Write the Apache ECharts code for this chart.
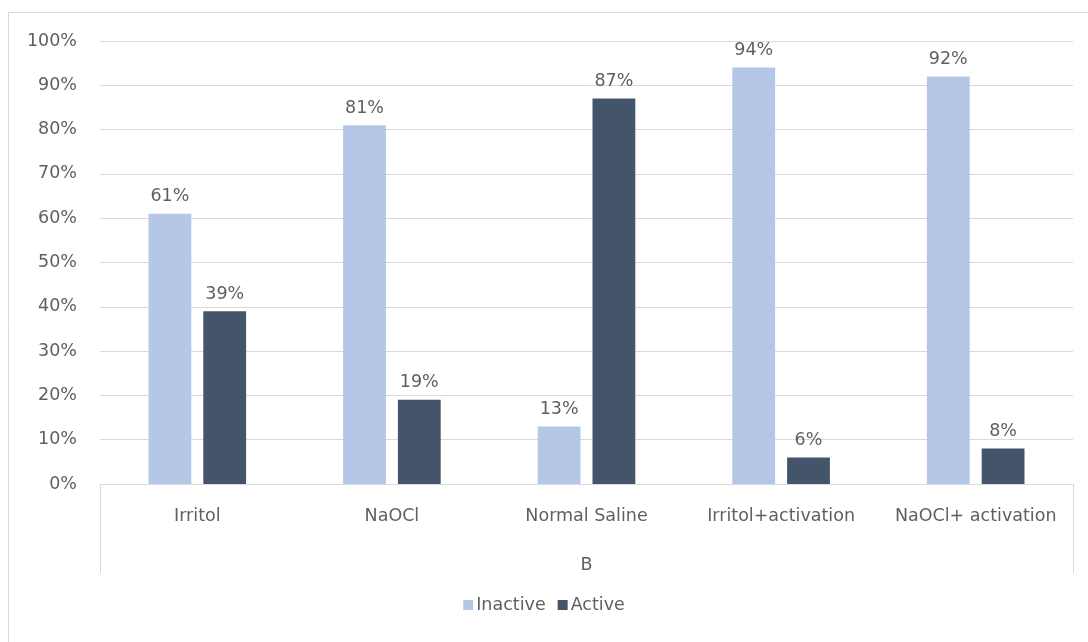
<!DOCTYPE html>
<html>
<head>
<meta charset="utf-8">
<script src="https://cdn.jsdelivr.net/npm/echarts@6/dist/echarts.min.js"></script>
<style>html,body{margin:0;padding:0;background:#fff;}#c{width:1088px;height:642px;}</style>
</head>
<body>
<div id="c"></div>
<script>
var categories = ['Irritol', 'NaOCl', 'Normal Saline', 'Irritol+activation', 'NaOCl+ activation'];
var inactive = [61, 81, 13, 94, 92];
var active = [39, 19, 87, 6, 8];
var seriesNames = ['Inactive', 'Active'];
var axisName = 'B';
var yTicks = [0, 10, 20, 30, 40, 50, 60, 70, 80, 90, 100];

var FONT = '"DejaVu Sans", sans-serif';
var FS = 17.5;
var TXT = '#5f5f5f';
var chart = echarts.init(document.getElementById('c'), null, {renderer: 'canvas'});
var gridLeft = 100, gridRight = 15, gridTop = 41, gridBottom = 158;
var W = 1088, H = 642;
var option = {
  backgroundColor: '#fff',
  textStyle: {fontFamily: FONT},
  grid: {left: gridLeft, right: gridRight, top: gridTop, bottom: gridBottom},
  legend: {
    data: seriesNames,
    bottom: 23,
    left: 'center',
    itemWidth: 10, itemHeight: 10, itemGap: 12,
    icon: 'rect',
    textStyle: {color: TXT, fontSize: FS, fontFamily: FONT, padding: [0, 0, 0, -2]}
  },
  xAxis: {
    type: 'category',
    data: categories,
    name: axisName,
    nameLocation: 'middle',
    nameGap: 72,
    nameTextStyle: {color: TXT, fontSize: FS, fontFamily: FONT},
    axisLine: {lineStyle: {color: '#d9d9d9', width: 1}},
    axisTick: {show: false},
    axisLabel: {color: TXT, fontSize: FS, fontFamily: FONT, margin: 23, interval: 0}
  },
  yAxis: {
    type: 'value',
    min: yTicks[0], max: yTicks[yTicks.length - 1], interval: yTicks[1] - yTicks[0],
    axisLine: {show: false},
    axisTick: {show: false},
    splitLine: {lineStyle: {color: '#d9d9d9', width: 1}},
    axisLabel: {color: TXT, fontSize: FS, fontFamily: FONT, margin: 23, formatter: '{value}%'}
  },
  series: [
    {
      name: seriesNames[0], type: 'bar', data: inactive,
      barWidth: '22%', barGap: '28%',
      itemStyle: {color: '#b4c7e7'},
      label: {show: true, position: 'top', distance: 8, formatter: '{c}%', color: TXT, fontSize: FS, fontFamily: FONT}
    },
    {
      name: seriesNames[1], type: 'bar', data: active,
      barWidth: '22%', barGap: '28%',
      itemStyle: {color: '#44546a'},
      label: {show: true, position: 'top', distance: 8, formatter: '{c}%', color: TXT, fontSize: FS, fontFamily: FONT}
    }
  ],
  graphic: [
    {type: 'rect', shape: {x: 8.5, y: 12.5, width: W, height: H}, style: {fill: 'none', stroke: '#d9d9d9', lineWidth: 1}, silent: true},
    {type: 'line', shape: {x1: gridLeft + 0.5, y1: H - gridBottom, x2: gridLeft + 0.5, y2: H - gridBottom + 89}, style: {stroke: '#d9d9d9', lineWidth: 1}, silent: true},
    {type: 'line', shape: {x1: W - gridRight + 0.5, y1: H - gridBottom, x2: W - gridRight + 0.5, y2: H - gridBottom + 89}, style: {stroke: '#d9d9d9', lineWidth: 1}, silent: true}
  ]
};
chart.setOption(option);
</script>
</body>
</html>
